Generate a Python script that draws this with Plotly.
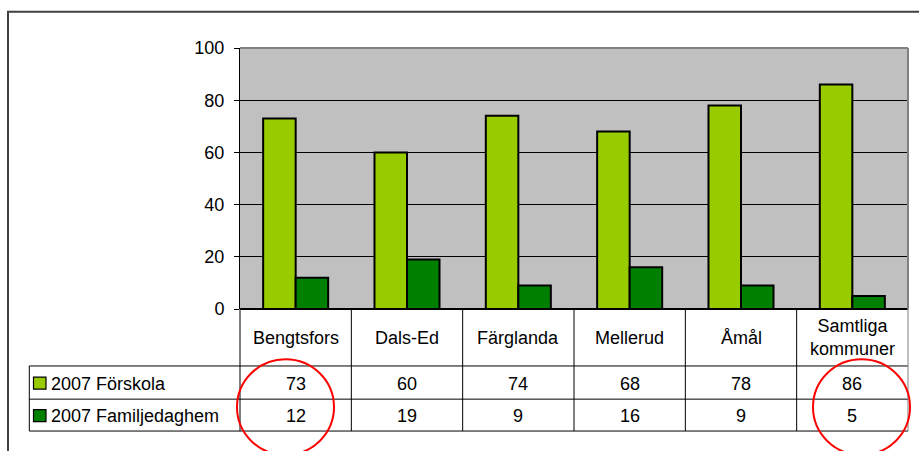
import plotly.graph_objects as go

categories = ["Bengtsfors", "Dals-Ed", "Färglanda", "Mellerud", "Åmål", "Samtliga<br>kommuner"]
series_names = ["2007 Förskola", "2007 Familjedaghem"]
forskola = [73, 60, 74, 68, 78, 86]
familjedaghem = [12, 19, 9, 16, 9, 5]
y_ticks = [0, 20, 40, 60, 80, 100]

colors = ["#99CC00", "#008000"]
FONT = "Liberation Sans, Arial, sans-serif"
FS = 18

W, H = 919, 451
L, R, T, B = 240, 908, 47.5, 309.5
PW, PH = R - L, B - T


def px(p):
    return (p - L) / PW


def py(p):
    return (B - p) / PH


fig = go.Figure()
for name, vals, col in zip(series_names, [forskola, familjedaghem], colors):
    fig.add_bar(x=categories, y=vals, name=name,
                marker=dict(color=col, line=dict(color="black", width=2)))

shapes = []
annotations = []

# plot area top/right gray border
shapes.append(dict(type="line", xref="paper", yref="paper", x0=0, x1=1, y0=1, y1=1,
                   line=dict(color="#808080", width=2)))
shapes.append(dict(type="line", xref="paper", yref="paper", x0=1, x1=1, y0=0, y1=1,
                   line=dict(color="#808080", width=2)))

# data table
row1_top, row2_top, row_bot = 366.7, 400, 432
n = len(categories)
for yy in [row1_top, row2_top, row_bot]:
    shapes.append(dict(type="line", xref="paper", yref="paper", x0=px(29.3), x1=1,
                       y0=py(yy), y1=py(yy), line=dict(color="black", width=1)))
shapes.append(dict(type="line", xref="paper", yref="paper", x0=px(29.3), x1=px(29.3),
                   y0=py(row1_top), y1=py(row_bot), line=dict(color="black", width=1)))
for i in range(n + 1):
    shapes.append(dict(type="line", xref="paper", yref="paper", x0=i / n, x1=i / n,
                       y0=0, y1=py(row_bot),
                       line=dict(color="#808080" if i == n else "black", width=1)))

for c in categories:
    annotations.append(dict(x=c, xref="x", y=py(338.5), yref="paper", text=c,
                            showarrow=False, yanchor="middle", xanchor="center",
                            font=dict(family=FONT, size=FS, color="black")))
row_centers = [(row1_top + row2_top) / 2 + 1, (row2_top + row_bot) / 2 + 1]
for vals, yc in zip([forskola, familjedaghem], row_centers):
    for c, v in zip(categories, vals):
        annotations.append(dict(x=c, xref="x", y=py(yc), yref="paper", text=str(v),
                                showarrow=False, yanchor="middle", xanchor="center",
                                font=dict(family=FONT, size=FS, color="black")))
for name, col, yc in zip(series_names, colors, row_centers):
    shapes.append(dict(type="rect", xref="paper", yref="paper", x0=px(33.5), x1=px(46),
                       y0=py(yc - 6.5), y1=py(yc + 5.5), fillcolor=col,
                       line=dict(color="black", width=1.2)))
    annotations.append(dict(x=px(49), xref="paper", y=py(yc), yref="paper", text=name,
                            showarrow=False, yanchor="middle", xanchor="left",
                            font=dict(family=FONT, size=FS, color="black")))

# outer chart border
shapes.append(dict(type="rect", xref="paper", yref="paper", x0=px(8), x1=px(935),
                   y0=py(11), y1=py(470), line=dict(color="#404040", width=2),
                   fillcolor="rgba(0,0,0,0)", layer="below"))

# red circles
for cx in [285.5, 861.5]:
    shapes.append(dict(type="circle", xref="paper", yref="paper", x0=px(cx - 48.5),
                       x1=px(cx + 48.5), y0=py(360), y1=py(456),
                       line=dict(color="#FF0000", width=2)))

fig.update_layout(
    width=W, height=H, autosize=False,
    margin=dict(l=L, r=W - R, t=T, b=H - B, pad=0),
    paper_bgcolor="white", plot_bgcolor="#C0C0C0",
    showlegend=False, barmode="group", bargap=0.416, bargroupgap=0,
    font=dict(family=FONT, size=FS, color="black"),
    shapes=shapes, annotations=annotations,
    xaxis=dict(showticklabels=False, ticks="", showgrid=False, showline=False,
               zeroline=False),
    yaxis=dict(range=[0, 100], tickvals=y_ticks, ticks="outside", ticklen=5,
               tickcolor="black", showline=True, linecolor="black", linewidth=1,
               showgrid=True, gridcolor="black", gridwidth=1, zeroline=True,
               zerolinecolor="black", zerolinewidth=1.5, ticklabelstandoff=6,
               tickfont=dict(family=FONT, size=FS, color="black")),
)

fig.write_html("out.html", config={"displayModeBar": False},
               post_script="document.body.style.margin='0';document.body.style.overflow='hidden';")
